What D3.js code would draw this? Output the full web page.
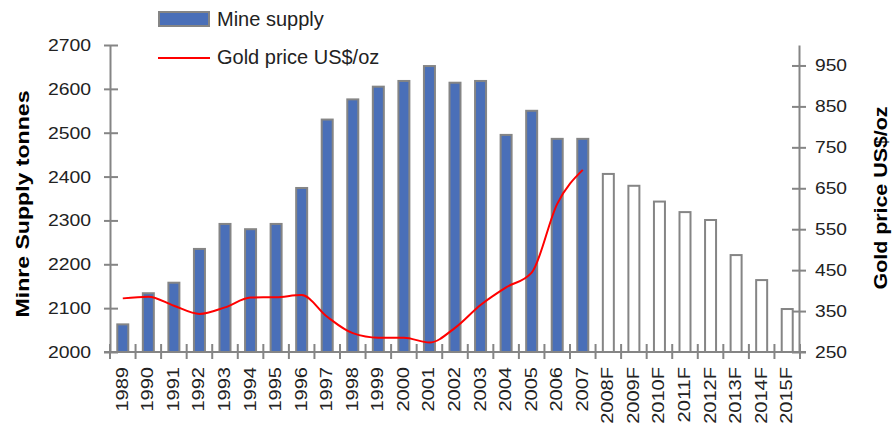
<!DOCTYPE html>
<html lang="en">
<head>
    <meta charset="UTF-8">
    <title>Mine supply vs gold price</title>
    <script src="https://d3js.org/d3.v7.min.js"></script>
    <style>
        body { margin: 0; background: #fff; }
        svg { display: block; font-family: "Liberation Sans", Arial, sans-serif; }
    </style>
</head>
<body>
    <svg id="chart" width="893" height="434"></svg>

    <script>
        // data
        const years = ["1989", "1990", "1991", "1992", "1993", "1994", "1995", "1996", "1997", "1998",
                       "1999", "2000", "2001", "2002", "2003", "2004", "2005", "2006", "2007",
                       "2008F", "2009F", "2010F", "2011F", "2012F", "2013F", "2014F", "2015F"];
        const mineSupply = [2063, 2134, 2158, 2235, 2292, 2280, 2292, 2374, 2530, 2576,
                            2605, 2618, 2652, 2614, 2618, 2495, 2550, 2486, 2486,
                            2406, 2379, 2343, 2319, 2301, 2221, 2164, 2098];
        const priceYears = years.slice(0, 19);
        const goldPrice = [381, 385, 363, 343, 359, 383, 384, 389, 336, 296,
                           285, 285, 273, 309, 365, 408, 444, 612, 695];
        const leftTicks = [2000, 2100, 2200, 2300, 2400, 2500, 2600, 2700];
        const rightTicks = [250, 350, 450, 550, 650, 750, 850, 950];

        const svg = d3.select("#chart");
        const grey = "#858585", blue = "#4a6fb8";
        const x0 = 110, x1 = 800, yBase = 352, yTop = 45;

        const x = d3.scaleBand().domain(years).range([x0, x1]);
        const yL = d3.scaleLinear().domain([2000, 2700]).range([yBase, yTop]);
        const yR = d3.scaleLinear().domain([250, 1000]).range([yBase, yTop]);
        const barW = 11;

        // stretch text a bit wider, the source font is wide
        function stretch(sel, k) {
            sel.each(function () {
                const w = this.getComputedTextLength();
                d3.select(this).attr("textLength", w * k).attr("lengthAdjust", "spacingAndGlyphs");
            });
        }

        // bars
        svg.append("g").selectAll("rect").data(years).enter().append("rect")
            .attr("x", d => x(d) + (x.bandwidth() - barW) / 2)
            .attr("y", (d, i) => yL(mineSupply[i]))
            .attr("width", barW)
            .attr("height", (d, i) => yBase - yL(mineSupply[i]))
            .attr("fill", d => d.endsWith("F") ? "#fff" : blue)
            .attr("stroke", grey).attr("stroke-width", 2);

        // gold price line
        const line = d3.line()
            .x(d => x(d) + x.bandwidth() / 2)
            .y((d, i) => yR(goldPrice[i]))
            .curve(d3.curveMonotoneX);
        svg.append("path").datum(priceYears).attr("d", line)
            .attr("fill", "none").attr("stroke", "#ff0000").attr("stroke-width", 2);

        // left axis
        const gL = svg.append("g").attr("transform", `translate(${x0},0)`)
            .call(d3.axisLeft(yL).tickValues(leftTicks).tickFormat(d3.format("d"))
                .tickSize(6).tickSizeOuter(0).tickPadding(13));
        gL.selectAll(".tick line").attr("x1", 8);
        gL.selectAll(".tick text").attr("font-size", 17).attr("fill", "#222").call(stretch, 1.14);

        // right axis
        const gR = svg.append("g").attr("transform", "translate(799,0)")
            .call(d3.axisRight(yR).tickValues(rightTicks).tickFormat(d3.format("d"))
                .tickSize(7).tickSizeOuter(0).tickPadding(9));
        gR.selectAll(".tick line").attr("x1", -7);
        gR.selectAll(".tick text").attr("font-size", 17).attr("fill", "#222").call(stretch, 1.13);

        [gL, gR].forEach(g => {
            g.select(".domain").attr("stroke", grey).attr("stroke-width", 2);
            g.selectAll(".tick line").attr("stroke", grey).attr("stroke-width", 2);
        });

        // bottom axis: ticks on category boundaries
        const gB = svg.append("g");
        gB.append("line").attr("x1", 104).attr("x2", 806).attr("y1", yBase).attr("y2", yBase)
            .attr("stroke", grey).attr("stroke-width", 2);
        gB.selectAll("line.tk").data(years.map(d => x(d)).concat([x1])).enter().append("line")
            .attr("class", "tk")
            .attr("x1", d => d).attr("x2", d => d)
            .attr("y1", yBase - 8).attr("y2", yBase + 7)
            .attr("stroke", grey).attr("stroke-width", 2);
        gB.selectAll("text").data(years).enter().append("text")
            .attr("transform", d => `translate(${x(d) + x.bandwidth() / 2 - 1},367) rotate(-90)`)
            .attr("text-anchor", "end").attr("dy", "0.35em")
            .attr("font-size", 17).attr("fill", "#222")
            .text(d => d)
            .call(stretch, 1.18);

        // axis titles
        svg.append("text")
            .attr("transform", "translate(29,204) rotate(-90)")
            .attr("text-anchor", "middle").attr("font-size", 19).attr("font-weight", "bold")
            .attr("textLength", 227).attr("lengthAdjust", "spacingAndGlyphs")
            .text("Minre Supply tonnes");
        svg.append("text")
            .attr("transform", "translate(887,198) rotate(-90)")
            .attr("text-anchor", "middle").attr("font-size", 19).attr("font-weight", "bold")
            .attr("textLength", 183).attr("lengthAdjust", "spacingAndGlyphs")
            .text("Gold price US$/oz");

        // legend
        const lg = svg.append("g");
        lg.append("rect").attr("x", 159).attr("y", 12).attr("width", 50).attr("height", 14)
            .attr("fill", blue).attr("stroke", grey).attr("stroke-width", 2);
        lg.append("text").attr("x", 217).attr("y", 26).attr("font-size", 20).attr("fill", "#222")
            .text("Mine supply");
        lg.append("line").attr("x1", 158).attr("x2", 210).attr("y1", 58).attr("y2", 58)
            .attr("stroke", "#ff0000").attr("stroke-width", 2);
        lg.append("text").attr("x", 217).attr("y", 64).attr("font-size", 20).attr("fill", "#222")
            .text("Gold price US$/oz");
    </script>
</body>
</html>
